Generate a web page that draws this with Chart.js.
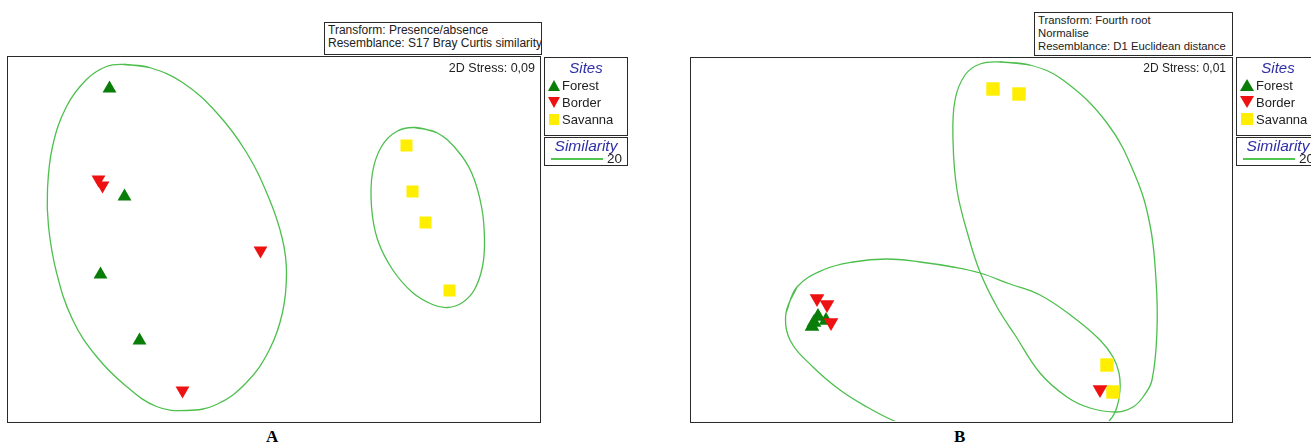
<!DOCTYPE html>
<html>
<head>
<meta charset="utf-8">
<script src="https://cdn.jsdelivr.net/npm/chart.js@4.4.1/dist/chart.umd.min.js"></script>
<style>
  body { margin:0; background:#fff; width:1311px; height:448px; position:relative; overflow:hidden;
         font-family:"Liberation Sans", Arial, sans-serif; color:#222; }
  .box { position:absolute; border:1.5px solid #2a2a2a; box-sizing:border-box; background:#fff; }
  .box canvas { position:absolute; left:0; top:0; }
  .note { line-height:13px; padding:1px 3px; white-space:nowrap; overflow:hidden; }
  .stress { position:absolute; color:#222; text-align:right; }
  .leg { overflow:hidden; white-space:nowrap; }
  .leg .ttl { font-style:italic; color:#2f2fa8; font-size:15px; line-height:19px; text-align:center; }
  .leg .row { font-size:13px; line-height:17px; height:17px; padding-left:3px; }
  .leg .row svg { vertical-align:-1px; margin-right:2px; }
  .leg.sim .ttl { font-size:15.5px; line-height:15px; }
  .leg.sim .r { font-size:13.5px; line-height:11px; height:11px; padding-left:6px; }
  .leg.sim .ln { display:inline-block; width:52px; height:0; border-top:2px solid #52c452; vertical-align:3px; margin-right:4px; }
  .lbl { position:absolute; font-family:"Liberation Serif", "Times New Roman", serif; font-weight:bold; font-size:17px; color:#000; }
</style>
</head>
<body>

<!-- panel A -->
<div class="box note" style="left:324px;top:22px;width:218px;height:33px;font-size:12px">Transform: Presence/absence<br>Resemblance: S17 Bray Curtis similarity</div>
<div class="box" style="left:7px;top:56px;width:534px;height:367px"><canvas id="chartA" width="531" height="364"></canvas></div>
<div class="stress" style="left:380px;top:61px;width:155px;font-size:12.5px">2D Stress: 0,09</div>
<div class="box leg" style="left:544px;top:57px;width:84px;height:79px">
  <div class="ttl">Sites</div>
  <div class="row"><svg width="12" height="11"><polygon points="6,0 12,11 0,11" fill="#087d08"/></svg>Forest</div>
  <div class="row"><svg width="12" height="11"><polygon points="0,0 12,0 6,11" fill="#ee1111"/></svg>Border</div>
  <div class="row"><svg width="12" height="11"><rect x="1" y="0" width="10" height="11" fill="#ffee00"/></svg>Savanna</div>
</div>
<div class="box leg sim" style="left:544px;top:137px;width:84px;height:29px">
  <div class="ttl">Similarity</div>
  <div class="r"><span class="ln"></span>20</div>
</div>
<div class="lbl" style="left:266px;top:427px">A</div>

<!-- panel B -->
<div class="box note" style="left:1034px;top:12px;width:199px;height:44px;font-size:11.3px">Transform: Fourth root<br>Normalise<br>Resemblance: D1 Euclidean distance</div>
<div class="box" style="left:690px;top:57px;width:543px;height:366px"><canvas id="chartB" width="540" height="363"></canvas></div>
<div class="stress" style="left:1070px;top:61px;width:156px;font-size:12px">2D Stress: 0,01</div>
<div class="box leg" style="left:1236px;top:57px;width:84px;height:79px">
  <div class="ttl">Sites</div>
  <div class="row"><svg width="14" height="12"><polygon points="7,0 14,12 0,12" fill="#087d08"/></svg>Forest</div>
  <div class="row"><svg width="14" height="12"><polygon points="0,0 14,0 7,12" fill="#ee1111"/></svg>Border</div>
  <div class="row"><svg width="14" height="12"><rect x="1" y="0" width="12" height="12" fill="#ffee00"/></svg>Savanna</div>
</div>
<div class="box leg sim" style="left:1236px;top:137px;width:84px;height:29px">
  <div class="ttl">Similarity</div>
  <div class="r"><span class="ln"></span>20</div>
</div>
<div class="lbl" style="left:954px;top:427px">B</div>

<script>
// nMDS coordinates, [x, y]
var forestA = [[-1.64, 1.505], [-1.49, 0.425], [-1.73, -0.355], [-1.34, -1.015]];
var borderA = [[-1.75, 0.595], [-1.71, 0.535], [-0.13, -0.115], [-0.91, -1.515]];
var savannaA = [[1.33, 0.935], [1.39, 0.475], [1.52, 0.165], [1.76, -0.515]];

var forestB = [[-1.49, -0.87], [-1.43, -0.77], [-1.35, -0.81], [-1.47, -0.83]];
var borderB = [[-1.44, -0.59], [-1.34, -0.65], [-1.30, -0.83], [1.39, -1.50]];
var savannaB = [[0.32, 1.505], [0.58, 1.455], [1.46, -1.255], [1.52, -1.525]];

// 20% similarity contours, traced clockwise
var simA1 = [[-1.49, 1.745], [-1.24, 1.715], [-0.91, 1.565], [-0.57, 1.265], [-0.27, 0.865], [-0.04, 0.395],
  [0.09, -0.005], [0.13, -0.335], [0.09, -0.735], [-0.04, -1.105], [-0.27, -1.435], [-0.57, -1.655],
  [-0.87, -1.715], [-1.17, -1.675], [-1.47, -1.475], [-1.77, -1.175], [-2.01, -0.805], [-2.17, -0.335],
  [-2.25, 0.125], [-2.26, 0.495], [-2.21, 0.925], [-2.07, 1.325], [-1.87, 1.595], [-1.67, 1.725]];
var simA2 = [[1.41, 1.115], [1.63, 1.065], [1.83, 0.895], [1.98, 0.665], [2.08, 0.325], [2.11, -0.005],
  [2.09, -0.275], [2.01, -0.505], [1.89, -0.635], [1.74, -0.685], [1.59, -0.655], [1.39, -0.535],
  [1.19, -0.305], [1.04, -0.005], [0.98, 0.325], [0.99, 0.665], [1.08, 0.925], [1.23, 1.075]];
var simB1 = [[0.39, 1.775], [0.69, 1.745], [1.02, 1.595], [1.46, 1.165], [1.74, 0.645], [1.89, 0.145],
  [1.95, -0.405], [1.96, -0.905], [1.91, -1.405], [1.82, -1.575], [1.72, -1.675], [1.56, -1.725],
  [1.29, -1.685], [1.06, -1.575], [0.79, -1.335], [0.54, -0.955], [0.36, -0.675], [0.19, -0.325],
  [0.07, 0.045], [-0.04, 0.495], [-0.08, 0.995], [-0.06, 1.395], [0.04, 1.645], [0.19, 1.755]];
var simB2 = [[-1.75, -0.735], [-1.64, -0.475], [-1.38, -0.305], [-1.08, -0.225], [-0.74, -0.195], [-0.41, -0.225],
  [-0.08, -0.275], [0.19, -0.335], [0.49, -0.445], [0.79, -0.555], [1.12, -0.775], [1.39, -1.005],
  [1.52, -1.175], [1.58, -1.335], [1.59, -1.505], [1.56, -1.675], [1.49, -1.805], [1.29, -1.965],
  [0.94, -2.055], [0.49, -2.055], [-0.01, -1.985], [-0.41, -1.905], [-0.69, -1.805], [-0.94, -1.675],
  [-1.21, -1.505], [-1.48, -1.275], [-1.71, -1.005]];

var green = '#087d08', red = '#ee1111', yellow = '#ffee00', contour = '#4dbf4d';

function pts(arr) {
    return arr.map(function (p) { return { x: p[0], y: p[1] }; });
}
function loop(arr) {
    // close the contour, run one step past the start so the join stays smooth
    return pts(arr.concat([arr[0], arr[1]]));
}
function sites(data, style, color, r, rot) {
    return { data: pts(data), pointStyle: style, pointRadius: r, pointRotation: rot || 0,
             backgroundColor: color, borderColor: color, borderWidth: 0, showLine: false };
}
function simLine(data) {
    return { data: loop(data), showLine: true, pointRadius: 0, tension: 0.4, fill: false,
             borderColor: contour, borderWidth: 1.3 };
}

function mds(id, xr, yr, datasets) {
    new Chart(document.getElementById(id), {
        type: 'scatter',
        data: { datasets: datasets },
        options: {
            responsive: false,
            animation: false,
            events: [],
            layout: { padding: 0, autoPadding: false },
            elements: { line: { capBezierPoints: false } },
            plugins: { legend: { display: false }, tooltip: { enabled: false } },
            scales: {
                x: { type: 'linear', display: false, min: -xr, max: xr },
                y: { type: 'linear', display: false, min: -yr, max: yr }
            }
        }
    });
}

mds('chartA', 2.655, 1.82, [
    sites(forestA, 'triangle', green, 8),
    sites(borderA, 'triangle', red, 8, 180),
    sites(savannaA, 'rect', yellow, 8.5),
    simLine(simA1),
    simLine(simA2)
]);

mds('chartB', 2.70, 1.815, [
    sites(borderB, 'triangle', red, 8.5, 180),
    sites(forestB, 'triangle', green, 8.5),
    sites(savannaB, 'rect', yellow, 9.5),
    simLine(simB1),
    simLine(simB2)
]);
</script>
</body>
</html>
